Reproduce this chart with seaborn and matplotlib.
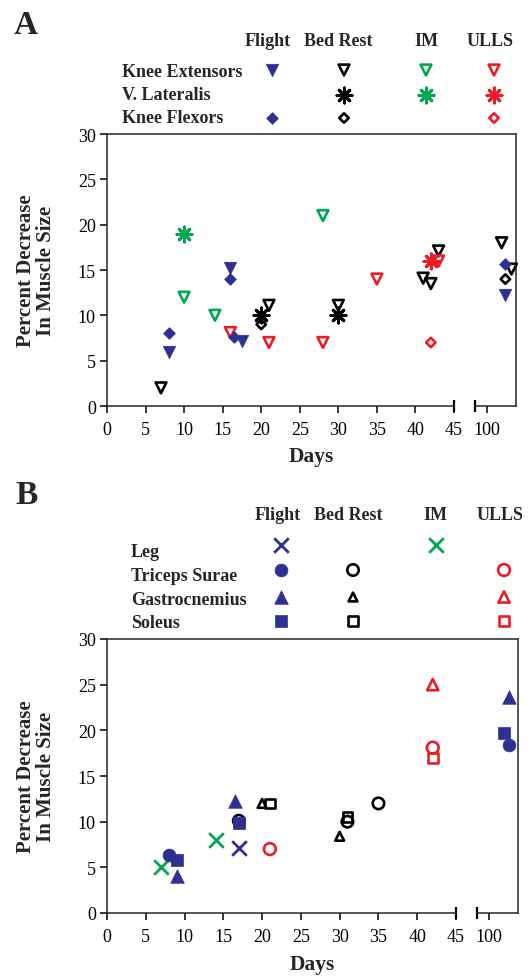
import pandas as pd
import seaborn as sns
import matplotlib.pyplot as plt

# estilo base y fuente tipo Times
sns.set_style('ticks')
plt.rcParams['font.family'] = ['Liberation Serif', 'DejaVu Serif']

AZUL, VERDE, ROJO, NEGRO = '#2E3192', '#00A651', '#ED1C24', '#000000'
AST = (8, 2, 0)  # asterisco de 8 brazos

# ---------------- Panel A: muslo ----------------
columnas = ['Flight', 'Bed Rest', 'IM', 'ULLS']
filas_a = ['Knee Extensors', 'V. Lateralis', 'Knee Flexors']

ke_flight_dias = [8, 16, 17.5, 102.4]
ke_flight_pct = [6, 15.2, 7.2, 12.2]
ke_bed_dias = [7, 21, 30, 41, 42, 43, 101.9, 103.2]
ke_bed_pct = [2, 11.1, 11.1, 14.1, 13.5, 17.1, 18, 15.1]
ke_im_dias = [10, 14, 28]
ke_im_pct = [12, 10, 21]
ke_ulls_dias = [16, 21, 28, 35, 43]
ke_ulls_pct = [8.1, 7, 7, 14, 16]

vl_bed_dias = [20, 30]
vl_bed_pct = [10, 10]
vl_im_dias = [10]
vl_im_pct = [19]
vl_ulls_dias = [42]
vl_ulls_pct = [16]

kf_flight_dias = [8, 16, 16.5, 102.3]
kf_flight_pct = [8, 14, 7.6, 15.7]
kf_bed_dias = [20, 102.4]
kf_bed_pct = [9, 14]
kf_ulls_dias = [42]
kf_ulls_pct = [7]

# ---------------- Panel B: pierna ----------------
filas_b = ['Leg', 'Triceps Surae', 'Gastrocnemius', 'Soleus']

leg_flight_dias = [17]
leg_flight_pct = [7.1]
leg_im_dias = [7, 14]
leg_im_pct = [5, 8]

ts_flight_dias = [8, 102.6]
ts_flight_pct = [6.3, 18.4]
ts_bed_dias = [17, 31, 35]
ts_bed_pct = [10.1, 10, 12]
ts_ulls_dias = [21, 42]
ts_ulls_pct = [7, 18.1]

gas_flight_dias = [9, 16.5, 102.6]
gas_flight_pct = [4, 12.3, 23.7]
gas_bed_dias = [20, 30]
gas_bed_pct = [12, 8.4]
gas_ulls_dias = [42]
gas_ulls_pct = [25]

sol_flight_dias = [9, 17, 101.9]
sol_flight_pct = [5.8, 9.8, 19.7]
sol_bed_dias = [21, 31]
sol_bed_pct = [12, 10.5]
sol_ulls_dias = [42]
sol_ulls_pct = [17]

# (dias, pct, marcador, color, relleno, tamaño, fila, columna)
series_a = [
    (ke_bed_dias, ke_bed_pct, 'v', NEGRO, False, 60, 0, 1),
    (ke_im_dias, ke_im_pct, 'v', VERDE, False, 60, 0, 2),
    (ke_ulls_dias, ke_ulls_pct, 'v', ROJO, False, 60, 0, 3),
    (vl_bed_dias, vl_bed_pct, AST, NEGRO, None, 120, 1, 1),
    (vl_im_dias, vl_im_pct, AST, VERDE, None, 120, 1, 2),
    (vl_ulls_dias, vl_ulls_pct, AST, ROJO, None, 120, 1, 3),
    (kf_bed_dias, kf_bed_pct, 'D', NEGRO, False, 23, 2, 1),
    (kf_ulls_dias, kf_ulls_pct, 'D', ROJO, False, 23, 2, 3),
    (ke_flight_dias, ke_flight_pct, 'v', AZUL, True, 80, 0, 0),
    (kf_flight_dias, kf_flight_pct, 'D', AZUL, True, 36, 2, 0),
]
series_b = [
    (ts_bed_dias, ts_bed_pct, 'o', NEGRO, False, 68, 1, 1),
    (gas_bed_dias, gas_bed_pct, '^', NEGRO, False, 40, 2, 1),
    (sol_bed_dias, sol_bed_pct, 's', NEGRO, False, 48, 3, 1),
    (ts_ulls_dias, ts_ulls_pct, 'o', ROJO, False, 72, 1, 3),
    (gas_ulls_dias, gas_ulls_pct, '^', ROJO, False, 65, 2, 3),
    (sol_ulls_dias, sol_ulls_pct, 's', ROJO, False, 55, 3, 3),
    (leg_flight_dias, leg_flight_pct, 'x', AZUL, None, 110, 0, 0),
    (leg_im_dias, leg_im_pct, 'x', VERDE, None, 110, 0, 2),
    (ts_flight_dias, ts_flight_pct, 'o', AZUL, True, 85, 1, 0),
    (gas_flight_dias, gas_flight_pct, '^', AZUL, True, 95, 2, 0),
    (sol_flight_dias, sol_flight_pct, 's', AZUL, True, 70, 3, 0),
]

W, H = 532, 978
fig = plt.figure(figsize=(W / 100, H / 100), dpi=100)


def caja(x0, y0, x1, y1):
    # rectangulo en pixeles (origen arriba) -> fraccion de figura
    return [x0 / W, 1 - y1 / H, (x1 - x0) / W, (y1 - y0) / H]


def dibuja(ax, x, y, marker, color, lleno, s):
    kw = dict(marker=marker, s=s, clip_on=False, zorder=3, legend=False)
    if lleno is None:
        kw.update(color=color, linewidth=2)
    elif lleno:
        kw.update(color=color, edgecolor=color, linewidth=0.5)
    else:
        kw.update(facecolor='none', edgecolor=color, linewidth=1.9)
    sns.scatterplot(x=list(x), y=list(y), ax=ax, **kw)


# capa de fondo en pixeles para leyendas y rotulos
clave = fig.add_axes([0, 0, 1, 1])
clave.set_xlim(0, W)
clave.set_ylim(H, 0)
clave.axis('off')


def panel(top, bottom, x0, x45, xcorte, x1, series):
    ax = fig.add_axes(caja(x0, top, x45, bottom))
    ax2 = fig.add_axes(caja(xcorte, top, x1, bottom))
    marco = fig.add_axes(caja(x0, top, x1, bottom))
    for s in ['left', 'right', 'bottom']:
        marco.spines[s].set_visible(False)
    marco.spines['top'].set_linewidth(1.1)
    marco.set_xticks([])
    marco.set_yticks([])
    marco.patch.set_visible(False)

    for dias, pct, mk, col, lleno, s, _, _ in series:
        df = pd.DataFrame({'dias': dias, 'pct': pct})
        izq = df[df['dias'] <= 45]
        der = df[df['dias'] > 45]
        if len(izq):
            dibuja(ax, izq['dias'], izq['pct'], mk, col, lleno, s)
        if len(der):
            dibuja(ax2, der['dias'], der['pct'], mk, col, lleno, s)

    for a in (ax, ax2):
        a.set_ylim(0, 30)
        a.set_xlabel('')
        a.set_ylabel('')
        a.patch.set_visible(False)
        a.tick_params(direction='out', length=5, width=1.1, labelsize=13,
                      pad=6, colors='k')
        for sp in a.spines.values():
            sp.set_linewidth(1.1)
    ax.tick_params(axis='y', pad=3)
    ax.set_xlim(0, 45)
    ax.set_xticks(range(0, 50, 5))
    ax.set_yticks(range(0, 35, 5))
    ax.spines['top'].set_visible(False)
    ax.spines['right'].set_visible(False)
    ax2.set_xlim(98.4, 103.8)
    ax2.set_xticks([100])
    ax2.set_yticks([])
    ax2.spines['top'].set_visible(False)
    ax2.spines['left'].set_visible(False)
    # marcas de corte del eje x
    ax.plot([1], [0], transform=ax.transAxes, marker='|', ms=8, mew=1.6,
            color='k', clip_on=False)
    ax2.plot([0], [0], transform=ax2.transAxes, marker='|', ms=8, mew=1.6,
             color='k', clip_on=False)
    return ax, ax2


def leyenda(series, filas, x_cab, y_cab, x_marca, y_marca, x_fila, y_fila):
    for nombre, xc in zip(columnas, x_cab):
        clave.text(xc, y_cab, nombre, ha='center', va='baseline',
                   fontsize=13, fontweight='bold')
    for nombre, yf in zip(filas, y_fila):
        clave.text(x_fila, yf, nombre, ha='left', va='baseline',
                   fontsize=13, fontweight='bold')
    for _, _, mk, col, lleno, s, f, c in series:
        dibuja(clave, [x_marca[c]], [y_marca[f]], mk, col, lleno, s)


def rotulos(top, bottom, x0, x1, y_dias):
    clave.text(36, (top + bottom) / 2, 'Percent Decrease\nIn Muscle Size',
               rotation=90, ha='center', va='center', fontsize=15,
               fontweight='bold', linespacing=1.05, multialignment='center')
    clave.text((x0 + x1) / 2, y_dias, 'Days', ha='center', va='center',
               fontsize=15.5, fontweight='bold')


# panel A
panel(135, 407, 107, 454, 475, 516, series_a)
leyenda(series_a, filas_a, [268, 338, 426, 490], 46.5,
        [272, 344, 426, 494], [71, 96, 119], 122, [77, 100, 123])
rotulos(135, 407, 107, 516, 457)
clave.text(14, 34, 'A', ha='left', va='baseline', fontsize=24, fontweight='bold')

# panel B
panel(640, 914, 107, 456, 477, 518, series_b)
leyenda(series_b, filas_b, [278, 348, 435, 500], 520.5,
        [281, 353, 436, 504], [546, 571, 598, 622], 131, [557, 581, 605, 627.5])
rotulos(640, 914, 107, 518, 965)
clave.text(15, 504, 'B', ha='left', va='baseline', fontsize=24, fontweight='bold')

fig.savefig('out.png', dpi=100)
